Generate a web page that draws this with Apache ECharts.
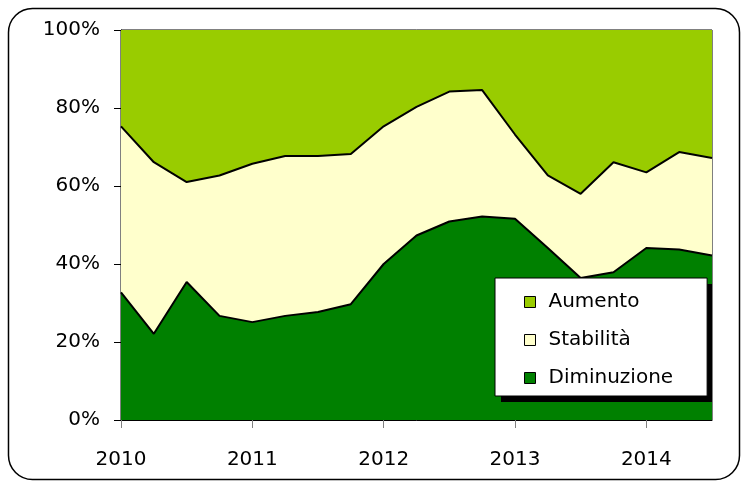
<!DOCTYPE html>
<html>
<head>
<meta charset="utf-8">
<script src="https://cdn.jsdelivr.net/npm/echarts@6/dist/echarts.min.js"></script>
<style>
  html, body { margin: 0; padding: 0; background: #ffffff; }
  #chart { width: 741px; height: 481px; }
</style>
</head>
<body>
<div id="chart"></div>
<script>
// Quarterly periods, 2010 T1 to 2014 T3
const quarters = [
  '2010 T1', '2010 T2', '2010 T3', '2010 T4',
  '2011 T1', '2011 T2', '2011 T3', '2011 T4',
  '2012 T1', '2012 T2', '2012 T3', '2012 T4',
  '2013 T1', '2013 T2', '2013 T3', '2013 T4',
  '2014 T1', '2014 T2', '2014 T3'
];

// Shares of answers (%), stacked to 100
const diminuzione = [32.7, 22.1, 35.4, 26.7, 25.1, 26.7, 27.7, 29.7, 40.0, 47.3, 50.9, 52.2, 51.6, 44.1, 36.4, 37.9, 44.1, 43.7, 42.2];
const stabilita   = [42.6, 44.0, 25.6, 36.0, 40.6, 41.0, 40.0, 38.5, 35.3, 33.0, 33.3, 32.4, 21.6, 18.6, 21.6, 28.2, 19.4, 25.0, 25.0];
const aumento     = [24.7, 33.9, 39.0, 37.3, 34.3, 32.3, 32.3, 31.8, 24.7, 19.7, 15.8, 15.4, 26.8, 37.3, 42.0, 33.9, 36.5, 31.3, 32.8];

const yTicks = [0, 20, 40, 60, 80, 100];
const seriesNames = ['Aumento', 'Stabilità', 'Diminuzione'];

const FONT = 'DejaVu Sans';

const chart = echarts.init(document.getElementById('chart'), null, { renderer: 'canvas' });

function areaSeries(name, data, fill, edge) {
  return {
    name: name,
    type: 'line',
    stack: 'totale',
    data: data,
    symbol: 'none',
    smooth: false,
    itemStyle: { color: fill },
    lineStyle: edge ? { color: '#000000', width: 2 } : { width: 0, opacity: 0 },
    areaStyle: { color: fill, opacity: 1 },
    z: 2
  };
}

chart.setOption({
  animation: false,
  backgroundColor: '#ffffff',
  textStyle: { fontFamily: FONT, color: '#000000' },
  graphic: [
    {
      // rounded frame around the whole chart
      type: 'rect',
      shape: { x: 8.5, y: 8.5, width: 731, height: 471, r: 24 },
      style: { fill: 'none', stroke: '#000000', lineWidth: 1.5 },
      z: 100,
      silent: true
    },
    {
      // solid drop shadow behind the legend box
      type: 'rect',
      shape: { x: 501, y: 284, width: 211, height: 118 },
      style: { fill: '#000000' },
      z: 3,
      silent: true
    }
  ],
  grid: {
    left: 121, top: 30, right: 29, bottom: 61,
    show: true, borderColor: '#000000', borderWidth: 1,
    backgroundColor: 'transparent'
  },
  legend: {
    data: seriesNames,
    orient: 'vertical',
    left: 495, top: 278,
    backgroundColor: '#ffffff',
    borderColor: '#000000',
    borderWidth: 1,
    borderRadius: 0,
    padding: [14, 34, 8, 29],
    itemGap: 18,
    itemWidth: 11,
    itemHeight: 11,
    icon: 'rect',
    itemStyle: { borderColor: '#000000', borderWidth: 1 },
    textStyle: { fontFamily: FONT, fontSize: 20, color: '#000000', padding: [0, 0, 0, 8], lineHeight: 20 },
    selectedMode: false,
    z: 4
  },
  xAxis: {
    type: 'category',
    data: quarters,
    boundaryGap: false,
    axisLine: { show: true, lineStyle: { color: '#000000', width: 1 } },
    axisTick: { show: true, interval: 3, length: 8, lineStyle: { color: '#808080' } },
    axisLabel: {
      interval: 3,
      margin: 30,
      fontFamily: FONT, fontSize: 20, color: '#000000',
      formatter: function (v) { return v.split(' ')[0]; }
    },
    splitLine: { show: false }
  },
  yAxis: {
    type: 'value',
    min: yTicks[0], max: yTicks[yTicks.length - 1], interval: 20,
    axisLine: { show: true, lineStyle: { color: '#000000', width: 1 } },
    axisTick: { show: true, length: 7, lineStyle: { color: '#000000' } },
    axisLabel: { margin: 21, fontFamily: FONT, fontSize: 20, color: '#000000', formatter: '{value}%' },
    splitLine: { show: false }
  },
  series: [
    areaSeries('Diminuzione', diminuzione, '#008000', true),
    areaSeries('Stabilità', stabilita, '#FFFFCC', true),
    areaSeries('Aumento', aumento, '#99CC00', false)
  ]
});
</script>
</body>
</html>
